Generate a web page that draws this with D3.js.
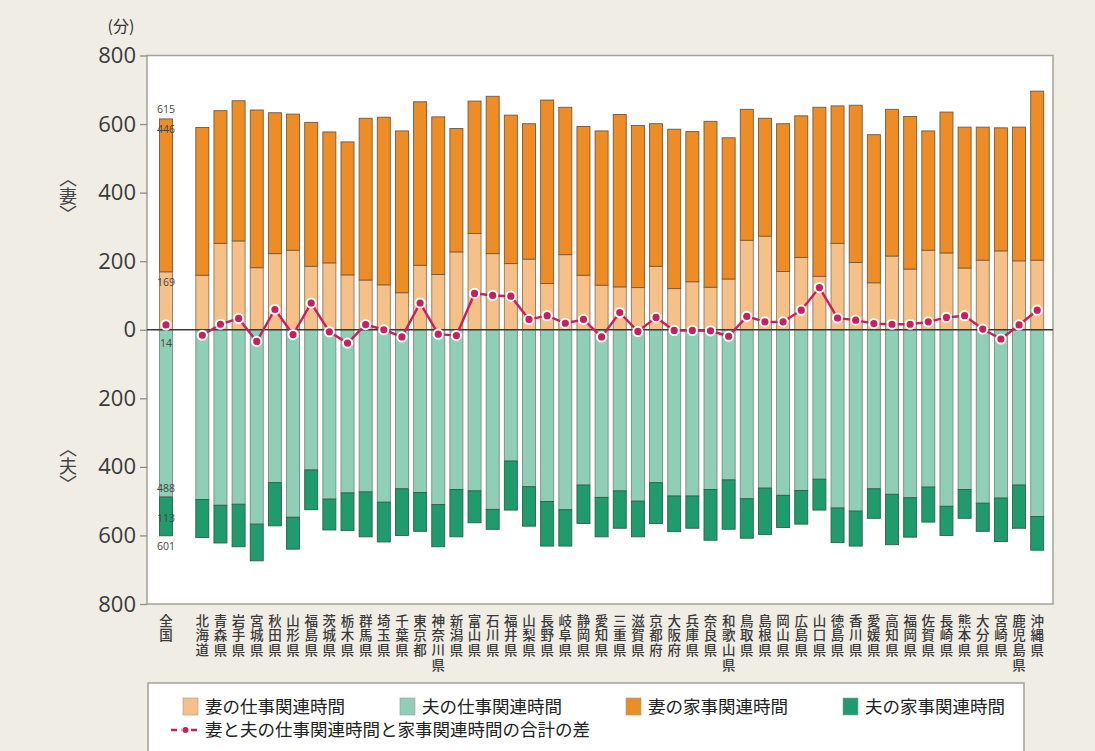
<!DOCTYPE html>
<html><head><meta charset="utf-8">
<script src="https://cdn.jsdelivr.net/npm/d3@7"></script>
<style>
html,body{margin:0;padding:0;background:#f0ede5;}
svg{display:block;font-family:"Noto Sans CJK JP","Noto Sans",sans-serif;}
.vt{writing-mode:vertical-rl;text-orientation:upright;}
</style></head>
<body>
<svg id="chart" width="1095" height="751"></svg>
<script>
const categories = ["全国","北海道","青森県","岩手県","宮城県","秋田県","山形県","福島県","茨城県","栃木県","群馬県","埼玉県","千葉県","東京都","神奈川県","新潟県","富山県","石川県","福井県","山梨県","長野県","岐阜県","静岡県","愛知県","三重県","滋賀県","京都府","大阪府","兵庫県","奈良県","和歌山県","鳥取県","島根県","岡山県","広島県","山口県","徳島県","香川県","愛媛県","高知県","福岡県","佐賀県","長崎県","熊本県","大分県","宮崎県","鹿児島県","沖縄県"];
// minutes
const wifeWork  = [169,159,252,259,181,222,232,185,195,160,145,131,108,188,161,227,281,222,193,206,135,219,159,130,125,123,185,120,140,124,148,261,273,170,211,156,252,196,137,215,177,232,224,180,203,230,201,203];
const wifeHouse = [446,431,387,409,460,411,397,420,382,388,472,489,472,477,460,360,386,459,433,395,535,430,434,450,503,473,416,465,438,484,412,382,344,431,413,493,401,459,432,428,445,348,411,411,388,359,390,493];
const husbWork  = [488,495,512,509,567,446,547,409,494,476,473,503,464,475,510,466,470,524,383,458,501,525,453,489,470,500,446,485,485,466,438,493,462,483,469,436,520,529,464,480,490,459,515,466,506,491,453,545];
const husbHouse = [113,111,110,124,107,126,93,116,90,110,131,116,136,113,123,138,93,58,143,115,130,106,112,115,109,104,119,104,94,148,144,115,135,94,98,90,101,102,86,147,115,102,85,84,82,127,126,98];
const diffTotal = [14,-16,16,33,-34,59,-14,78,-6,-39,15,0,-21,78,-13,-17,106,100,98,30,41,19,30,-21,50,-5,36,-2,-2,-3,-19,39,23,23,57,123,34,28,18,16,16,23,36,41,2,-27,14,57];
const yTicks = [800,600,400,200,0,200,400,600,800];
const yTickValues = [800,600,400,200,0,-200,-400,-600,-800];
const legendItems = ["妻の仕事関連時間","夫の仕事関連時間","妻の家事関連時間","夫の家事関連時間"];
const lineLegend = "妻と夫の仕事関連時間と家事関連時間の合計の差";

const C = {wWork:"#f6c188", wHouse:"#ee8d25", hWork:"#8fcfb8", hHouse:"#1f9b6d", line:"#c8205e"};

const svg = d3.select("#chart");
const plot = {left:147, right:1053, top:55.5, bottom:604};

const slots = [categories[0], "_gap", ...categories.slice(1)];
const x = d3.scalePoint().domain(slots).range([166, 1037.2]);
const y = d3.scaleLinear().domain([-800, 800]).range([plot.bottom, plot.top]);
const bw = 13;

svg.append("rect").attr("x",plot.left).attr("y",plot.top).attr("width",plot.right-plot.left).attr("height",plot.bottom-plot.top)
  .attr("fill","#fff").attr("stroke","#a3a09a").attr("stroke-width",1.5);

const data = categories.map((c,i)=>({c, ww:wifeWork[i], wh:wifeHouse[i], hw:husbWork[i], hh:husbHouse[i], d:diffTotal[i]}));

const g = svg.append("g");
const segs = [];
data.forEach(d=>{
  segs.push({c:d.c, y0:0, y1:d.ww, col:C.wWork, st:"#8d7a62"});
  segs.push({c:d.c, y0:d.ww, y1:d.ww+d.wh, col:C.wHouse, st:"#6f5a3e"});
  segs.push({c:d.c, y0:0, y1:-d.hw, col:C.hWork, st:"#7d8a85"});
  segs.push({c:d.c, y0:-d.hw, y1:-(d.hw+d.hh), col:C.hHouse, st:"#2f5f4c"});
});
g.selectAll("rect.seg").data(segs).join("rect").attr("class","seg")
  .attr("x",d=>x(d.c)-bw/2).attr("width",bw)
  .attr("y",d=>y(Math.max(d.y0,d.y1))).attr("height",d=>Math.abs(y(d.y0)-y(d.y1)))
  .attr("fill",d=>d.col).attr("stroke",d=>d.st).attr("stroke-width",0.9);

svg.append("line").attr("x1",plot.left).attr("x2",plot.right).attr("y1",y(0)).attr("y2",y(0))
  .attr("stroke","#3a3a3a").attr("stroke-width",1.3);

const yAxis = d3.axisLeft(y).tickValues(yTickValues).tickSize(7).tickPadding(4)
  .tickFormat((v,i)=>yTicks[i]);
const ya = svg.append("g").attr("transform",`translate(${plot.left},0)`).call(yAxis);
ya.select(".domain").remove();
ya.selectAll(".tick line").attr("stroke","#8f8c86").attr("stroke-width",1.3);
ya.selectAll(".tick text").attr("font-size",22).attr("fill","#3a3a3a").attr("font-family","'Open Sans','Noto Sans',sans-serif");

svg.append("text").attr("x",121).attr("y",32).attr("text-anchor","middle").attr("font-size",16).attr("fill","#333").text("(分)");

function vlabel(cx, cy, s){
  svg.append("text").attr("class","vt").attr("x",cx).attr("y",cy).attr("text-anchor","middle")
    .attr("font-size",18).attr("fill","#444").text(s);
}
vlabel(68, 196, "〈妻〉");
vlabel(68, 466, "〈夫〉");

const cl = svg.append("g").attr("font-size",13.5).attr("font-weight",500).attr("fill","#3a3a3a");
categories.forEach(c=>{
  cl.append("text").attr("class","vt").attr("x",x(c)).attr("y",614)
    .attr("text-anchor","start").attr("letter-spacing",1.1).text(c);
});

const pref = data.slice(1);
svg.append("path").datum(pref)
  .attr("d", d3.line().x(d=>x(d.c)).y(d=>y(d.d)))
  .attr("fill","none").attr("stroke",C.line).attr("stroke-width",2.4);
svg.selectAll("circle.dot").data(data).join("circle").attr("class","dot")
  .attr("cx",d=>x(d.c)).attr("cy",d=>y(d.d)).attr("r",4.6)
  .attr("fill",C.line).attr("stroke","#fff").attr("stroke-width",2);

const n = data[0], nx = x(n.c);
const ann = svg.append("g").attr("font-size",10.5).attr("fill","#444").attr("text-anchor","middle").attr("font-family","'Open Sans',sans-serif");
ann.append("text").attr("x",nx).attr("y",y(n.ww+n.wh)-6).text(n.ww+n.wh);
ann.append("text").attr("x",nx).attr("y",y(n.ww+n.wh)+14).text(n.wh);
ann.append("text").attr("x",nx).attr("y",y(n.ww)+14).text(n.ww);
ann.append("text").attr("x",nx).attr("y",y(0)+17).text(n.d);
ann.append("text").attr("x",nx).attr("y",y(-n.hw)-5).text(n.hw);
ann.append("text").attr("x",nx).attr("y",y(-n.hw)+25).text(n.hh);
ann.append("text").attr("x",nx).attr("y",y(-(n.hw+n.hh))+14).text(n.hw+n.hh);

const lg = svg.append("g");
lg.append("rect").attr("x",148).attr("y",683).attr("width",876).attr("height",80)
  .attr("fill","#fff").attr("stroke","#a3a09a").attr("stroke-width",1.5);
const legCols = [C.wWork, C.hWork, C.wHouse, C.hHouse];
const legX = [183, 400, 626, 843];
legendItems.forEach((t,i)=>{
  lg.append("rect").attr("x",legX[i]).attr("y",698).attr("width",15).attr("height",17)
    .attr("fill",legCols[i]).attr("stroke","#999").attr("stroke-width",0.6);
  lg.append("text").attr("x",legX[i]+22).attr("y",713).attr("font-size",17.5).attr("fill","#222").text(t);
});
lg.append("line").attr("x1",171).attr("x2",200).attr("y1",730).attr("y2",730)
  .attr("stroke",C.line).attr("stroke-width",2.4).attr("stroke-dasharray","6,4");
lg.append("circle").attr("cx",185.5).attr("cy",730).attr("r",3.6).attr("fill",C.line).attr("stroke","#fff").attr("stroke-width",1.2);
lg.append("text").attr("x",205).attr("y",736).attr("font-size",17.5).attr("fill","#222").text(lineLegend);
</script>
</body></html>
